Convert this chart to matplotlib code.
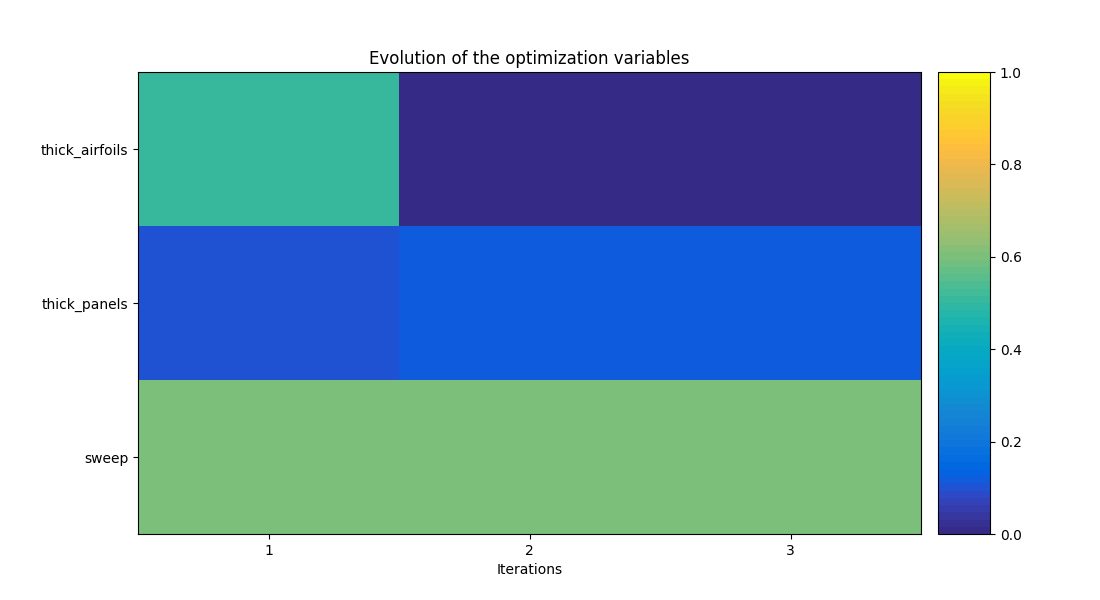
import matplotlib
matplotlib.use("Agg")
import matplotlib.pyplot as plt
import numpy as np
from matplotlib.colors import ListedColormap

variables = ["thick_airfoils", "thick_panels", "sweep"]
iterations = [1, 2, 3]
thick_airfoils = [0.505, 0.0, 0.0]
thick_panels = [0.10, 0.115, 0.115]
sweep = [0.60, 0.60, 0.60]

parula_data = [
[0.2081, 0.1663, 0.5292],[0.2116, 0.1898, 0.5777],[0.2123, 0.2138, 0.6270],[0.2081, 0.2386, 0.6771],
[0.1959, 0.2645, 0.7279],[0.1707, 0.2919, 0.7792],[0.1253, 0.3242, 0.8303],[0.0591, 0.3598, 0.8683],
[0.0117, 0.3875, 0.8820],[0.0060, 0.4086, 0.8828],[0.0165, 0.4266, 0.8786],[0.0329, 0.4430, 0.8720],
[0.0498, 0.4586, 0.8641],[0.0629, 0.4737, 0.8554],[0.0723, 0.4887, 0.8467],[0.0779, 0.5040, 0.8384],
[0.0793, 0.5200, 0.8312],[0.0749, 0.5375, 0.8263],[0.0641, 0.5570, 0.8240],[0.0488, 0.5772, 0.8228],
[0.0343, 0.5966, 0.8199],[0.0265, 0.6137, 0.8135],[0.0239, 0.6287, 0.8038],[0.0231, 0.6418, 0.7913],
[0.0228, 0.6535, 0.7768],[0.0267, 0.6642, 0.7607],[0.0384, 0.6743, 0.7436],[0.0590, 0.6838, 0.7254],
[0.0843, 0.6928, 0.7062],[0.1133, 0.7015, 0.6859],[0.1453, 0.7098, 0.6646],[0.1801, 0.7177, 0.6424],
[0.2178, 0.7250, 0.6193],[0.2586, 0.7317, 0.5954],[0.3022, 0.7376, 0.5712],[0.3482, 0.7424, 0.5473],
[0.3953, 0.7459, 0.5244],[0.4420, 0.7481, 0.5033],[0.4871, 0.7491, 0.4840],[0.5300, 0.7491, 0.4661],
[0.5709, 0.7485, 0.4494],[0.6099, 0.7473, 0.4337],[0.6473, 0.7456, 0.4188],[0.6834, 0.7435, 0.4044],
[0.7184, 0.7411, 0.3905],[0.7525, 0.7384, 0.3768],[0.7858, 0.7356, 0.3633],[0.8185, 0.7327, 0.3498],
[0.8507, 0.7299, 0.3360],[0.8824, 0.7274, 0.3217],[0.9139, 0.7258, 0.3063],[0.9450, 0.7261, 0.2886],
[0.9739, 0.7314, 0.2666],[0.9938, 0.7455, 0.2403],[0.9990, 0.7653, 0.2164],[0.9955, 0.7861, 0.1967],
[0.9880, 0.8066, 0.1794],[0.9789, 0.8271, 0.1633],[0.9697, 0.8481, 0.1475],[0.9626, 0.8705, 0.1309],
[0.9589, 0.8949, 0.1132],[0.9598, 0.9218, 0.0948],[0.9661, 0.9514, 0.0755],[0.9763, 0.9831, 0.0538]]
parula = ListedColormap(parula_data, name="parula")

data = np.array([thick_airfoils, thick_panels, sweep])

fig = plt.figure(figsize=(11, 6), dpi=100)
ax = fig.add_axes([0.1255, 0.11, 0.712, 0.77])
cax = fig.add_axes([0.8527, 0.11, 0.0473, 0.77])
im = ax.imshow(data, cmap=parula, vmin=0, vmax=1, aspect="auto", interpolation="nearest")
ax.set_yticks(range(len(variables)))
ax.set_yticklabels(variables)
ax.set_xticks(range(len(iterations)))
ax.set_xticklabels([str(i) for i in iterations])
ax.set_xlabel("Iterations")
ax.set_title("Evolution of the optimization variables")
fig.colorbar(im, cax=cax)
fig.savefig("out.png", dpi=100)
